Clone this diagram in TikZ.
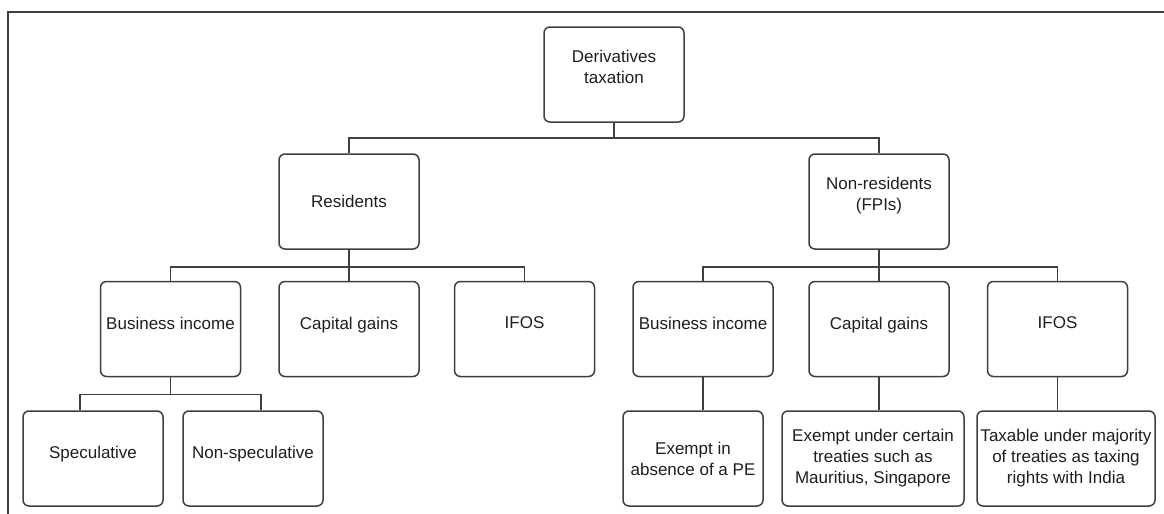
\documentclass[tikz,border=0pt]{standalone}
\usepackage{fontspec}
\setmainfont{Liberation Sans}
\definecolor{linegray}{HTML}{3F3F3F}
\definecolor{textgray}{HTML}{1E1E1E}

\begin{document}
\begin{tikzpicture}[x=0.5pt, y=-0.5pt,
  box/.style={rectangle, draw=linegray, line width=0.75pt, rounded corners=3pt, minimum width=70pt, minimum height=47.5pt, inner sep=1pt, align=center, text=textgray, font=\fontsize{8.5}{10.5}\selectfont},
  raised/.style={box, text depth=6pt},
  link/.style={draw=linegray, line width=0.75pt}
]
\useasboundingbox (0,0) rectangle (1164,514);

% Frame
\draw[link, line width=0.9pt] (8,520) -- (8,12) -- (1170,12);

% Level 0 (root)
\node[box, text depth=7.5pt] (root) at (614,74.5) {Derivatives\\taxation};

% Level 1
\node[box] (res) at (349,201.5) {Residents};
\node[box, text depth=8pt] (nonres) at (879,201.5) {Non-residents\\(FPIs)};

% Level 2 (residents)
\node[raised] (bi1) at (170.5,329) {Business income};
\node[raised] (cg1) at (349,329) {Capital gains};
\node[raised] (if1) at (524.5,329) {IFOS};

% Level 2 (non-residents)
\node[raised] (bi2) at (703,329) {Business income};
\node[raised] (cg2) at (879,329) {Capital gains};
\node[raised] (if2) at (1057.5,329) {IFOS};

% Level 3 (from bi1)
\node[raised] (spec) at (93,458.5) {Speculative};
\node[raised] (nspec) at (253,458.5) {Non-speculative};

% Level 3 (non-residents)
\node[box] (ex1) at (693,458.5) {Exempt in\\absence of a PE};
\node[box, minimum width=91pt] (ex2) at (873,458.5) {Exempt under certain\\treaties such as\\Mauritius, Singapore};
\node[box, minimum width=89pt] (ex3) at (1066,458.5) {Taxable under majority\\of treaties as taxing\\rights with India};

% Edges
\draw[link] (root.south) -- ++(0,15) -| (res.north);
\draw[link] (root.south) -- ++(0,15) -| (nonres.north);

\draw[link] (res.south) -- ++(0,17) -| (bi1.north);
\draw[link] (res.south) -- (cg1.north);
\draw[link] (res.south) -- ++(0,17) -| (if1.north);

\draw[link] (nonres.south) -- ++(0,17) -| (bi2.north);
\draw[link] (nonres.south) -- (cg2.north);
\draw[link] (nonres.south) -- ++(0,17) -| (if2.north);

\draw[link] (bi1.south) -- ++(0,17) -| ([xshift=-6.5pt]spec.north);
\draw[link] (bi1.south) -- ++(0,17) -| ([xshift=4pt]nspec.north);

\draw[link] (bi2.south) -- (bi2.south |- ex1.north);
\draw[link] (cg2.south) -- (cg2.south |- ex2.north);
\draw[link] (if2.south) -- (if2.south |- ex3.north);

\end{tikzpicture}
\end{document}
